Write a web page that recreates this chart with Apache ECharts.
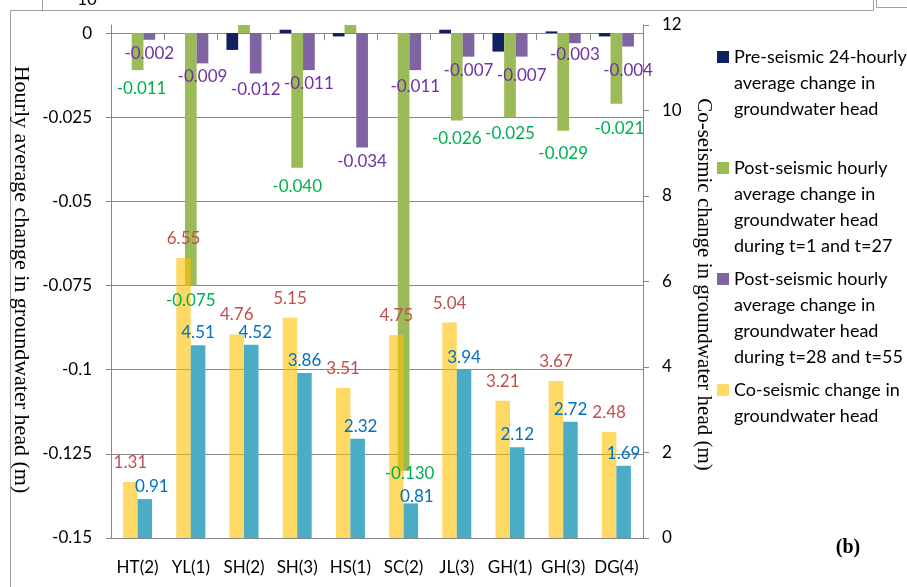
<!DOCTYPE html>
<html>
<head>
<meta charset="utf-8">
<script src="https://cdn.jsdelivr.net/npm/echarts@6/dist/echarts.min.js"></script>
<style>
  html, body { margin: 0; padding: 0; background: #fff; }
  #chart { width: 907px; height: 587px; }
</style>
</head>
<body>
<div id="chart"></div>
<script>
// Monitoring wells
const categories = ['HT(2)', 'YL(1)', 'SH(2)', 'SH(3)', 'HS(1)', 'SC(2)', 'JL(3)', 'GH(1)', 'GH(3)', 'DG(4)'];

// Hourly average changes in groundwater head (m), left axis
const preSeismic = [0, 0, -0.005, 0.001, -0.001, 0, 0.001, -0.0055, 0.0005, -0.001];
const postEarly = [-0.011, -0.075, 0.003, -0.040, 0.003, -0.130, -0.026, -0.025, -0.029, -0.021];
const postLate = [-0.002, -0.009, -0.012, -0.011, -0.034, -0.011, -0.007, -0.007, -0.003, -0.004];

// Co-seismic change and heightened stratum elevation (m), right axis
const coSeismic = [1.31, 6.55, 4.76, 5.15, 3.51, 4.75, 5.04, 3.21, 3.67, 2.48];
const stratumRise = [0.91, 4.51, 4.52, 3.86, 2.32, 0.81, 3.94, 2.12, 2.72, 1.69];

// Axis tick labels
const leftTicks = [-0.15, -0.125, -0.1, -0.075, -0.05, -0.025, 0];
const rightTicks = [0, 2, 4, 6, 8, 10, 12];

const seriesNames = [
  'Pre-seismic 24-hourly average change in groundwater head',
  'Post-seismic hourly average change in groundwater head during t=1 and t=27',
  'Post-seismic hourly average change in groundwater head during t=28 and t=55',
  'Co-seismic change in groundwater head',
  'Heightened stratum elevation'
];
// Wrapped legend text, every entry padded to four lines so the items are evenly spaced
const legendText = {};
legendText[seriesNames[0]] = 'Pre-seismic 24-hourly\naverage change in\ngroundwater head\n ';
legendText[seriesNames[1]] = 'Post-seismic hourly\naverage change in\ngroundwater head\nduring t=1 and t=27';
legendText[seriesNames[2]] = 'Post-seismic hourly\naverage change in\ngroundwater head\nduring t=28 and t=55';
legendText[seriesNames[3]] = 'Co-seismic change in\ngroundwater head\n \n ';
legendText[seriesNames[4]] = 'Heightened stratum\nelevation\n \n ';

// Small label nudges [dx, dy] in pixels
const earlyNudge = [[4, 2], [0, -2], [0, 0], [0, 2], [0, 0], [6, -14], [0, 1], [0, 0], [0, 6], [3, 8]];
const lateNudge = [[0, 0], [0, 0], [0, 3], [0, 0], [0, 0], [0, 3], [0, 0], [0, 5], [0, -2], [0, 10]];
const riseNudge = [[7, 0], [0, 0], [4, 0], [0, 0], [3, 0], [6, 6], [0, 0], [0, 0], [0, 0], [0, 0]];

const sans = 'Lato';
const serif = 'Liberation Serif';
const gray = '#868686';

function withLabels(values, opts) {
  return values.map((v, i) => {
    const item = { value: v };
    if (opts.hide && opts.hide(v)) {
      item.label = { show: false };
    } else if (opts.nudge) {
      item.label = { offset: opts.nudge[i] };
    }
    return item;
  });
}

const chart = echarts.init(document.getElementById('chart'), null, { renderer: 'canvas' });

chart.setOption({
  animation: false,
  backgroundColor: '#fff',
  grid: { left: 111, right: 264, top: 25, bottom: 49, containLabel: false },
  xAxis: [
    {
      type: 'category',
      data: categories,
      position: 'bottom',
      axisLine: { show: true, onZero: true, onZeroAxisIndex: 0, lineStyle: { color: gray, width: 1 } },
      axisTick: { show: true, length: 7, lineStyle: { color: gray } },
      axisLabel: { show: false },
      splitLine: { show: false }
    },
    {
      type: 'category',
      data: categories,
      position: 'bottom',
      axisLine: { show: true, onZero: false, lineStyle: { color: gray, width: 1 } },
      axisTick: { show: false },
      axisLabel: { show: true, interval: 0, margin: 21, fontFamily: sans, fontSize: 17, color: '#000' },
      splitLine: { show: false }
    }
  ],
  yAxis: [
    {
      type: 'value',
      position: 'left',
      min: -0.15,
      max: 0.0024,
      interval: 0.025,
      name: 'Hourly average change in groundwater head (m)',
      nameLocation: 'middle',
      nameRotate: -90,
      nameGap: 67,
      nameTextStyle: { fontFamily: serif, fontSize: 22, color: '#000', padding: [0, 4, 0, 0] },
      axisLine: { show: true, lineStyle: { color: gray, width: 1 } },
      axisTick: { show: true, length: 5, lineStyle: { color: gray }, customValues: leftTicks },
      axisLabel: {
        customValues: leftTicks,
        margin: 19,
        fontFamily: sans,
        fontSize: 17,
        color: '#000',
        formatter: v => String(Number(Number(v).toFixed(3)))
      },
      splitLine: { show: true, showMaxLine: false, lineStyle: { color: gray, width: 1 } }
    },
    {
      type: 'value',
      position: 'right',
      min: 0,
      max: 12,
      interval: 2,
      name: 'Co-seismic change in groundwater head (m)',
      nameLocation: 'middle',
      nameRotate: -90,
      nameGap: 30,
      nameTextStyle: { fontFamily: serif, fontSize: 21, color: '#000', padding: [0, 0, 0, 6] },
      axisLine: { show: true, lineStyle: { color: gray, width: 1 } },
      axisTick: { show: true, length: 6, lineStyle: { color: gray }, customValues: rightTicks },
      axisLabel: { customValues: rightTicks, margin: 19, fontFamily: sans, fontSize: 17, color: '#000' },
      splitLine: { show: false }
    }
  ],
  legend: {
    orient: 'vertical',
    left: 712,
    top: 39,
    itemWidth: 12,
    itemHeight: 104,
    itemGap: 7,
    selectedMode: false,
    icon: 'path://M0,0L0,0M0,104L0,104M0,7h12v12h-12z',
    data: seriesNames,
    formatter: n => legendText[n],
    textStyle: { fontFamily: sans, fontSize: 18, color: '#000', lineHeight: 26 }
  },
  series: [
    {
      name: seriesNames[0],
      type: 'bar',
      xAxisIndex: 0,
      yAxisIndex: 0,
      barWidth: 11.7,
      barGap: '0%',
      clip: true,
      itemStyle: { color: '#102060' },
      data: preSeismic
    },
    {
      name: seriesNames[1],
      type: 'bar',
      xAxisIndex: 0,
      yAxisIndex: 0,
      barWidth: 11.7,
      barGap: '0%',
      clip: true,
      itemStyle: { color: '#9BBB59' },
      label: {
        show: true,
        position: 'bottom',
        distance: 8,
        fontFamily: sans,
        fontSize: 17,
        color: '#00B050',
        formatter: p => p.value.toFixed(3)
      },
      data: withLabels(postEarly, { hide: v => v > 0, nudge: earlyNudge })
    },
    {
      name: seriesNames[2],
      type: 'bar',
      xAxisIndex: 0,
      yAxisIndex: 0,
      barWidth: 11.7,
      barGap: '0%',
      clip: true,
      itemStyle: { color: '#8064A2' },
      label: {
        show: true,
        position: 'bottom',
        distance: 5,
        fontFamily: sans,
        fontSize: 17,
        color: '#7030A0',
        formatter: p => p.value.toFixed(3)
      },
      data: withLabels(postLate, { nudge: lateNudge })
    },
    {
      name: seriesNames[3],
      type: 'bar',
      xAxisIndex: 1,
      yAxisIndex: 1,
      barWidth: 14.5,
      barGap: '0%',
      itemStyle: { color: 'rgba(255,192,0,0.6)' },
      label: {
        show: true,
        position: 'top',
        distance: 11,
        fontFamily: sans,
        fontSize: 17,
        color: '#C0504D',
        formatter: p => p.value.toFixed(2)
      },
      data: coSeismic
    },
    {
      name: seriesNames[4],
      type: 'bar',
      xAxisIndex: 1,
      yAxisIndex: 1,
      barWidth: 14.5,
      barGap: '0%',
      itemStyle: { color: '#4BACC6' },
      label: {
        show: true,
        position: 'top',
        distance: 4,
        fontFamily: sans,
        fontSize: 17,
        color: '#0070C0',
        formatter: p => p.value.toFixed(2)
      },
      data: withLabels(stratumRise, { nudge: riseNudge })
    }
  ],
  graphic: [
    // panel frame
    { type: 'polyline', shape: { points: [[10.5, 587], [10.5, 10.5], [873.5, 10.5], [873.5, 0]] }, style: { stroke: '#a0a0a0', lineWidth: 1, fill: null } },
    { type: 'line', shape: { x1: 42.5, y1: 0, x2: 42.5, y2: 10.5 }, style: { stroke: '#a0a0a0', lineWidth: 1 } },
    { type: 'polyline', shape: { points: [[876.5, 0], [876.5, 7.5], [907, 7.5]] }, style: { stroke: '#a0a0a0', lineWidth: 1, fill: null } },
    { type: 'text', x: 87, y: 8, style: { text: '10', font: '17px Lato', fill: '#000', align: 'center', verticalAlign: 'bottom' } },
    { type: 'text', x: 848, y: 548, style: { text: '(b)', font: 'bold 20px "Liberation Serif"', fill: '#000', align: 'center', verticalAlign: 'middle' } }
  ]
});
</script>
</body>
</html>
